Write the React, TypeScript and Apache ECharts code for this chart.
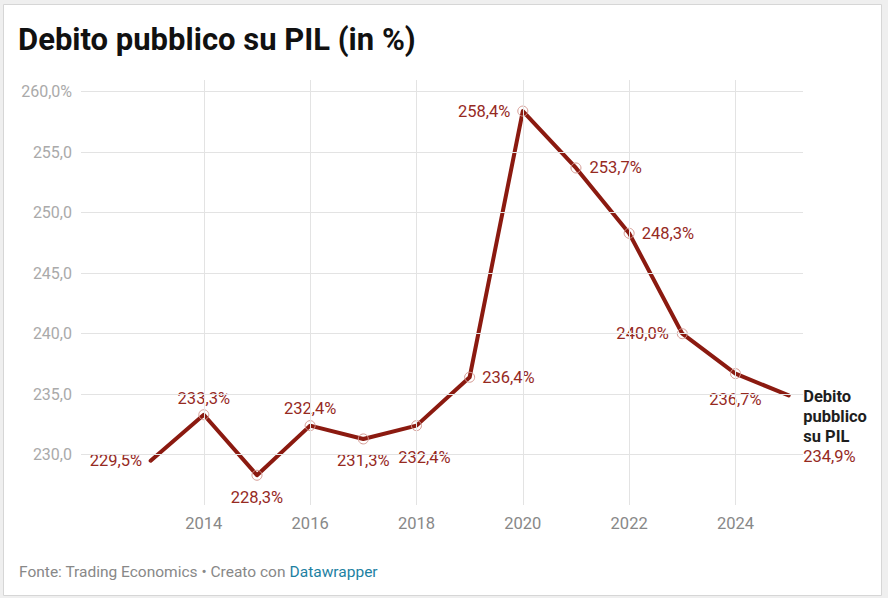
import React, { useEffect, useRef } from "react";
import * as echarts from "echarts";

const years = [2013, 2014, 2015, 2016, 2017, 2018, 2019, 2020, 2021, 2022, 2023, 2024, 2025];
const debt = [229.5, 233.3, 228.3, 232.4, 231.3, 232.4, 236.4, 258.4, 253.7, 248.3, 240.0, 236.7, 234.9];
const yTicks = [230, 235, 240, 245, 250, 255, 260];
const xTicks = [2014, 2016, 2018, 2020, 2022, 2024];
const seriesName = "Debito pubblico su PIL";

// label placement per point (style only)
const labelPos = ["left", "top", "bottom", "top", "bottom", "bottom", "right", "left", "right", "right", "left", "bottom", "right"];
const labelDist = [8, 2, 8, 3, 8, 18, 7, 7, 8, 7, 8, 12, 14];
const labelOffX = [0, 0, 0, 0, 0, 8, 0, 0, 0, 0, 0, 0, 0];

const LINE = "#8b1a10";
const LABEL = "#962a1f";
const FONT = "Roboto, 'Noto Sans', sans-serif";

const fmt = (v: number) => v.toFixed(1).replace(".", ",");

export default function App() {
  const ref = useRef<HTMLDivElement>(null);
  useEffect(() => {
    if (!ref.current) return;
    const chart = echarts.init(ref.current, null, { renderer: "svg" });
    const last = years.length - 1;
    const data = years.map((y, i) => {
      const isEnd = i === 0 || i === last;
      const item: any = {
        value: [y, debt[i]],
        symbolSize: isEnd ? 0.1 : 10,
        label: {
          show: true,
          position: labelPos[i],
          distance: labelDist[i],
          offset: [labelOffX[i], 0],
          color: LABEL,
          fontSize: 16.5,
          fontFamily: FONT,
          formatter: (p: any) => fmt(p.value[1]) + "%",
        },
      };
      if (i === last) {
        item.label = {
          show: true,
          position: "right",
          distance: 14,
          offset: [0, 31],
          fontFamily: FONT,
          formatter: () =>
            "{n|Debito}\n{n|pubblico}\n{n|su PIL}\n{v|" + fmt(debt[i]) + "%}",
          rich: {
            n: { fontFamily: FONT, fontWeight: "bold", fontSize: 16.5, color: "#1e1e1e", lineHeight: 20 },
            v: { fontFamily: FONT, fontSize: 16.5, color: LABEL, lineHeight: 20 },
          },
        };
      }
      return item;
    });

    chart.setOption({
      animation: false,
      backgroundColor: "#efefef",
      textStyle: { fontFamily: FONT },
      graphic: [
        {
          type: "rect",
          z: -10,
          shape: { x: 3.5, y: 4.5, width: 878, height: 591 },
          style: { fill: "#ffffff", stroke: "#d6d6d6", lineWidth: 1 },
        },
        {
          type: "text",
          x: 18,
          y: 39,
          style: {
            text: "Debito pubblico su PIL (in %)",
            font: "700 31px " + FONT,
            fill: "#111111",
            verticalAlign: "middle",
          },
        },
        {
          type: "text",
          x: 19,
          y: 572,
          style: {
            text: "{g|Fonte: Trading Economics • Creato con }{b|Datawrapper}",
            verticalAlign: "middle",
            rich: {
              g: { fontFamily: FONT, fontSize: 15.5, fill: "#888888", color: "#888888" },
              b: { fontFamily: FONT, fontSize: 15.5, fill: "#1d81a2", color: "#1d81a2" },
            },
          },
        },
      ],
      grid: { left: 81, right: 85, top: 80, bottom: 93, containLabel: false },
      xAxis: {
        type: "value",
        min: 2011.69,
        max: 2025.27,
        axisLine: { show: false },
        axisTick: { show: false },
        splitLine: { show: false },
        axisLabel: {
          customValues: xTicks,
          color: "#888888",
          fontSize: 16.5,
          fontFamily: FONT,
          margin: 10,
          formatter: (v: number) => String(v),
        },
      },
      yAxis: {
        type: "value",
        min: 225.84,
        max: 260.97,
        axisLine: { show: false },
        axisTick: { show: false },
        splitLine: { show: false },
        axisLabel: {
          customValues: yTicks,
          color: "#aaaaaa",
          fontSize: 16,
          fontFamily: FONT,
          margin: 9,
          formatter: (v: number) => fmt(v) + (v === yTicks[yTicks.length - 1] ? "%" : ""),
        },
      },
      series: [
        {
          type: "line",
          name: "grid",
          z: 1,
          silent: true,
          symbol: "none",
          data: years.map((y, i) => [y, debt[i]]),
          lineStyle: { opacity: 0 },
          markLine: {
            silent: true,
            symbol: "none",
            label: { show: false },
            lineStyle: { color: "#e3e3e3", width: 1, type: "solid" },
            data: [
              ...yTicks.map((v) => ({ yAxis: v })),
              ...xTicks.map((v) => ({ xAxis: v })),
            ],
          },
        },
        {
          type: "line",
          name: seriesName,
          z: 3,
          data,
          symbol: "circle",
          lineStyle: { color: LINE, width: 4, join: "round", cap: "round" },
          itemStyle: { color: "rgba(255,255,255,0)", borderColor: "#d59a93", borderWidth: 1 },
        },
      ],
    });
    return () => chart.dispose();
  }, []);
  return (
    <div
      ref={ref}
      style={{ position: "fixed", left: 0, top: 0, width: 888, height: 598 }}
    />
  );
}
